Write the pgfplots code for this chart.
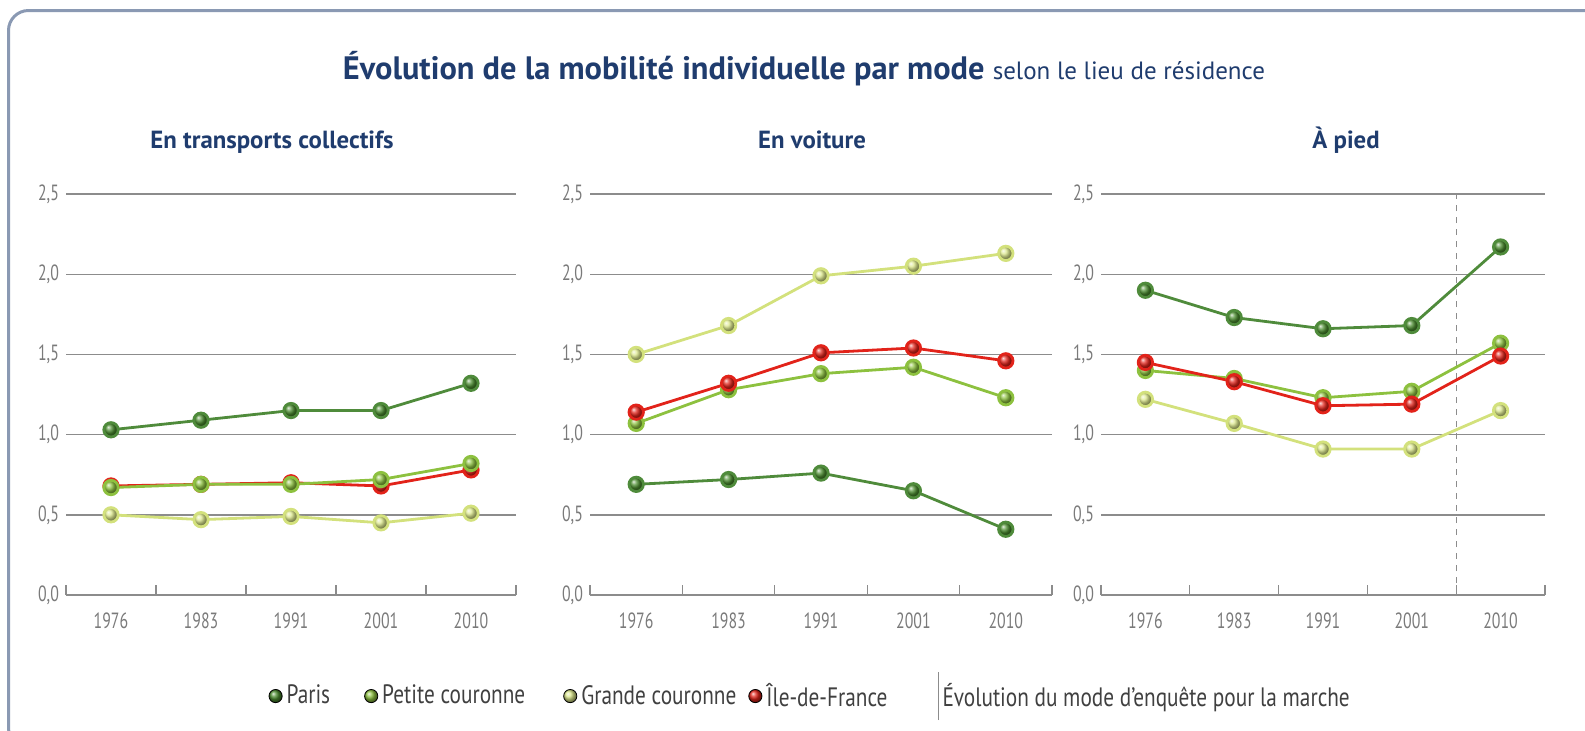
\documentclass[border=0pt]{standalone}
\usepackage{fontspec}
\setmainfont{PT Sans}
\newfontfamily\cond[FakeStretch=0.72]{PT Sans}
\newfontfamily\condl[FakeStretch=0.8]{PT Sans}
\usepackage{pgfplots}
\pgfplotsset{compat=1.18}
\usepackage{pgfplotstable}

\definecolor{parisc}{HTML}{4A8C2E}
\definecolor{parisl}{HTML}{4F8B3B}
\definecolor{pcc}{HTML}{8DC13F}
\definecolor{gcc}{HTML}{DCE88C}
\definecolor{gcl}{HTML}{D3E17C}
\definecolor{idfc}{HTML}{E2231A}
\definecolor{titlec}{HTML}{1F3C6E}
\definecolor{gridc}{HTML}{8C8C8C}
\definecolor{tickc}{HTML}{7A7A7A}
\definecolor{framec}{HTML}{8A99B3}

% columns: x paris petite-couronne grande-couronne ile-de-france
\pgfplotstableread{
x paris pc gc idf
0 1.03 0.67 0.50 0.68
1 1.09 0.69 0.47 0.69
2 1.15 0.69 0.49 0.70
3 1.15 0.72 0.45 0.68
4 1.32 0.82 0.51 0.78
}\tc
\pgfplotstableread{
x paris pc gc idf
0 0.69 1.07 1.50 1.14
1 0.72 1.28 1.68 1.32
2 0.76 1.38 1.99 1.51
3 0.65 1.42 2.05 1.54
4 0.41 1.23 2.13 1.46
}\voit
\pgfplotstableread{
x paris pc gc idf
0 1.90 1.40 1.22 1.45
1 1.73 1.35 1.07 1.33
2 1.66 1.23 0.91 1.18
3 1.68 1.27 0.91 1.19
4 2.17 1.57 1.15 1.49
}\pied

\pgfplotsset{
  panel/.style={
    scale only axis, height=200.5pt,
    xmin=-0.5, xmax=4.5, ymin=0, ymax=2.5,
    clip=false,
    axis line style={draw=none},
    ymajorgrids, grid style={gridc, line width=0.7pt},
    ytick={0,0.5,1,1.5,2,2.5},
    yticklabels={{0,0},{0,5},{1,0},{1,5},{2,0},{2,5}},
    xtick={0,1,2,3,4},
    xticklabels={1976,1983,1991,2001,2010},
    minor xtick={-0.5,0.5,1.5,2.5,3.5,4.5},
    tick align=inside, tick pos=left,
    major tick length=0pt, minor tick length=5pt,
    major x tick style={draw=none}, major y tick style={draw=none},
    minor x tick style={draw=gridc, line width=0.6pt},
    /pgf/number format/assume math mode=true,
    tick label style={font=\cond\fontsize{11}{13}\selectfont, text=tickc},
    xticklabel style={yshift=-5.5pt},
    yticklabel style={xshift=0pt},
  },
  ser/.style={line width=1.4pt, mark=ball, mark size=3.6pt, forget plot},
  balllegend/.style={only marks, mark=ball, mark size=3.3pt,
    legend image code/.code={\draw[##1] plot coordinates {(0.12cm,0cm)};}},
  vlinelegend/.style={legend image code/.code={\draw[gridc, line width=0.5pt] (0.12cm,-12pt) -- (0.12cm,12pt);}},
}

\begin{document}
\begin{tikzpicture}
\useasboundingbox (0,0) rectangle (792.5pt,-365pt);
\begin{scope}
\clip (0,0) rectangle (792.5pt,-365pt);
\draw[framec, line width=1.5pt, rounded corners=10pt] (4.25pt,-5.25pt) rectangle (830pt,-374pt);
\end{scope}

\node[anchor=base, text=titlec, inner sep=0pt] at (402pt,-39.5pt)
  {\fontsize{16.2}{19}\selectfont\bfseries Évolution de la mobilité individuelle par mode \fontsize{12.5}{14}\selectfont\mdseries selon le lieu de résidence};

\node[anchor=base, text=titlec, inner sep=0pt] at (136pt,-74pt) {\fontsize{12.4}{14}\selectfont\bfseries En transports collectifs};
\node[anchor=base, text=titlec, inner sep=0pt] at (406pt,-74pt) {\fontsize{12.4}{14}\selectfont\bfseries En voiture};
\node[anchor=base, text=titlec, inner sep=0pt] at (673pt,-74pt) {\fontsize{12.4}{14}\selectfont\bfseries À pied};

% Panel 1
\begin{axis}[panel, width=225pt, at={(33pt,-297.5pt)}, anchor=south west,
  legend style={at={(0.436,-0.252)}, anchor=west, draw=none, fill=none,
    legend columns=5, font=\condl\fontsize{13.3}{15}\selectfont, text=black!75,
    /tikz/column 2/.style={column sep=15pt},
    /tikz/column 4/.style={column sep=17pt},
    /tikz/column 6/.style={column sep=4pt},
    /tikz/column 8/.style={column sep=23pt}},
  legend cell align=left]
\addplot[ser, gcl, mark options={ball color=gcc}] table[x=x,y=gc]{\tc};
\addplot[ser, idfc, mark options={ball color=idfc}] table[x=x,y=idf]{\tc};
\addplot[ser, pcc, mark options={ball color=pcc}] table[x=x,y=pc]{\tc};
\addplot[ser, parisl, mark options={ball color=parisc}] table[x=x,y=paris]{\tc};
\addlegendimage{balllegend, mark options={ball color=parisc}}
\addlegendentry{Paris}
\addlegendimage{balllegend, mark options={ball color=pcc}}
\addlegendentry{Petite couronne}
\addlegendimage{balllegend, mark options={ball color=gcc}}
\addlegendentry{Grande couronne}
\addlegendimage{balllegend, mark options={ball color=idfc}}
\addlegendentry{Île-de-France}
\addlegendimage{vlinelegend}
\addlegendentry{Évolution du mode d’enquête pour la marche}
\end{axis}

% Panel 2
\begin{axis}[panel, width=231pt, at={(295pt,-297.5pt)}, anchor=south west]
\addplot[ser, gcl, mark options={ball color=gcc}] table[x=x,y=gc]{\voit};
\addplot[ser, pcc, mark options={ball color=pcc}] table[x=x,y=pc]{\voit};
\addplot[ser, idfc, mark options={ball color=idfc}] table[x=x,y=idf]{\voit};
\addplot[ser, parisl, mark options={ball color=parisc}] table[x=x,y=paris]{\voit};
\end{axis}

% Panel 3
\begin{axis}[panel, width=222pt, at={(550.5pt,-297.5pt)}, anchor=south west]
\addplot[gridc, dashed, line width=0.6pt, forget plot] coordinates {(3.5,0) (3.5,2.5)};
\addplot[ser, gcl, mark options={ball color=gcc}] table[x=x,y=gc]{\pied};
\addplot[ser, pcc, mark options={ball color=pcc}] table[x=x,y=pc]{\pied};
\addplot[ser, idfc, mark options={ball color=idfc}] table[x=x,y=idf]{\pied};
\addplot[ser, parisl, mark options={ball color=parisc}] table[x=x,y=paris]{\pied};
\end{axis}
\end{tikzpicture}
\end{document}
